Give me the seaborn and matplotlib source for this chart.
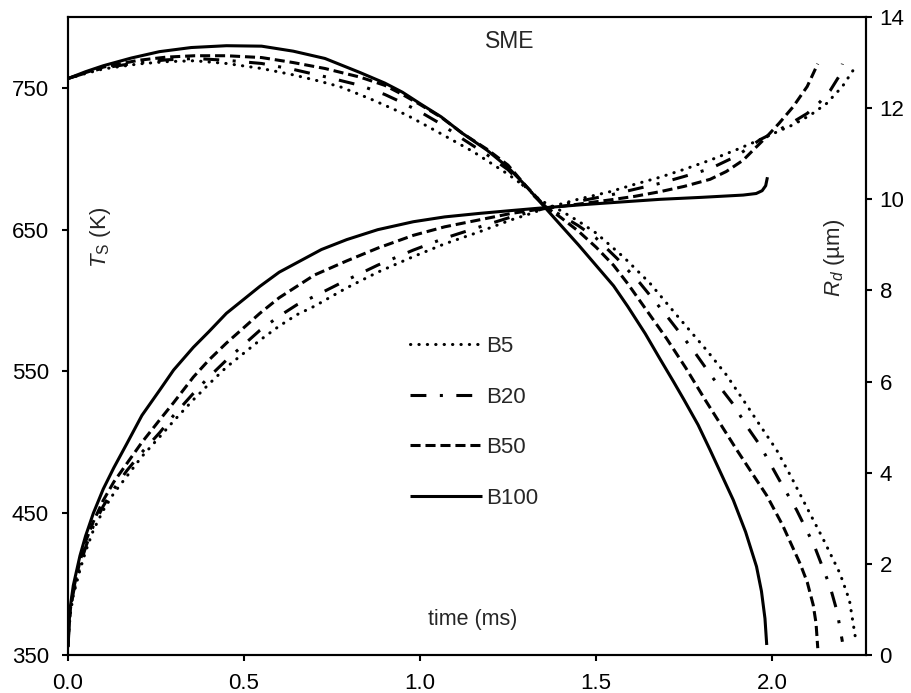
import matplotlib
matplotlib.use("Agg")
import matplotlib.pyplot as plt
import seaborn as sns
import pandas as pd

# ---------------- data ----------------
series = ["B5", "B20", "B50", "B100"]

# droplet radius R_d (um) vs time (ms)  -> right axis
t_rd_b100 = [0, 0.05, 0.10, 0.18, 0.26, 0.35, 0.45, 0.55, 0.64, 0.73, 0.83, 0.90, 0.95, 1.00, 1.06, 1.12, 1.19, 1.25,
             1.30, 1.34, 1.40, 1.45, 1.50, 1.55, 1.59, 1.64, 1.68, 1.72, 1.75, 1.79, 1.824, 1.86, 1.89, 1.925, 1.956,
             1.97, 1.98, 1.985]
rd_b100 = [12.65, 12.80, 12.93, 13.10, 13.24, 13.33, 13.37, 13.36, 13.25, 13.09, 12.78, 12.55, 12.35, 12.10, 11.81,
           11.45, 11.08, 10.70, 10.30, 9.95, 9.43, 9.00, 8.55, 8.10, 7.65, 7.05, 6.52, 6.00, 5.60, 5.05, 4.50, 3.90,
           3.40, 2.70, 1.94, 1.40, 0.80, 0.22]

t_rd_b50 = [0, 0.05, 0.10, 0.20, 0.28, 0.36, 0.45, 0.55, 0.64, 0.73, 0.83, 0.90, 0.95, 1.00, 1.06, 1.12, 1.19, 1.25,
            1.30, 1.355, 1.40, 1.45, 1.50, 1.55, 1.59, 1.645, 1.70, 1.755, 1.81, 1.855, 1.90, 1.945, 1.985, 2.03,
            2.08, 2.10, 2.117, 2.125, 2.13]
rd_b50 = [12.65, 12.78, 12.90, 13.05, 13.12, 13.15, 13.15, 13.11, 13.00, 12.87, 12.68, 12.50, 12.30, 12.08, 11.80,
          11.45, 11.10, 10.75, 10.30, 9.85, 9.60, 9.30, 8.95, 8.55, 8.15, 7.55, 6.95, 6.30, 5.60, 5.05, 4.50, 3.97,
          3.50, 2.85, 2.00, 1.60, 1.10, 0.70, 0.15]

t_rd_b20 = [0, 0.05, 0.10, 0.20, 0.28, 0.36, 0.45, 0.55, 0.64, 0.73, 0.83, 0.90, 0.95, 1.00, 1.06, 1.12, 1.19, 1.25,
            1.30, 1.355, 1.40, 1.45, 1.50, 1.56, 1.625, 1.70, 1.776, 1.83, 1.89, 1.93, 1.966, 2.02, 2.07, 2.12,
            2.165, 2.185, 2.20]
rd_b20 = [12.65, 12.77, 12.88, 13.00, 13.06, 13.09, 13.05, 12.98, 12.85, 12.69, 12.50, 12.30, 12.12, 11.92, 11.65,
          11.33, 10.98, 10.65, 10.25, 9.85, 9.65, 9.42, 9.15, 8.70, 8.16, 7.45, 6.69, 6.10, 5.50, 5.00, 4.60, 3.85,
          3.18, 2.40, 1.50, 0.95, 0.29]

t_rd_b5 = [0, 0.05, 0.10, 0.20, 0.28, 0.36, 0.45, 0.55, 0.64, 0.71, 0.773, 0.86, 0.962, 1.05, 1.152, 1.25, 1.30,
           1.341, 1.40, 1.45, 1.50, 1.58, 1.653, 1.73, 1.814, 1.87, 1.918, 1.965, 2.013, 2.055, 2.098, 2.145, 2.193,
           2.22, 2.238]
rd_b5 = [12.65, 12.76, 12.86, 12.97, 13.02, 13.04, 12.98, 12.87, 12.73, 12.60, 12.47, 12.20, 11.85, 11.48, 11.04,
         10.55, 10.27, 9.98, 9.75, 9.52, 9.26, 8.72, 8.16, 7.45, 6.69, 6.15, 5.60, 5.05, 4.50, 3.90, 3.25, 2.55,
         1.79, 1.20, 0.33]

# droplet surface temperature T_S (K) vs time (ms) -> left axis
t_ts_b100 = [0, 0.003, 0.006, 0.015, 0.034, 0.05, 0.072, 0.10, 0.13, 0.167, 0.21, 0.261, 0.30, 0.356, 0.40, 0.45,
             0.50, 0.545, 0.60, 0.66, 0.72, 0.792, 0.88, 0.981, 1.07, 1.17, 1.26, 1.34, 1.455, 1.57, 1.682, 1.80,
             1.918, 1.955, 1.972, 1.982, 1.987]
ts_b100 = [356, 372, 383, 399, 420, 434, 450, 467, 482, 499, 519, 537, 551, 567, 578, 591, 601, 610, 620, 628, 636,
           643, 650, 655.6, 659, 661.5, 663.5, 665.2, 667.5, 669.5, 671.4, 672.8, 674.4, 675.5, 677.5, 681, 687]

t_ts_b50 = [0, 0.003, 0.006, 0.015, 0.034, 0.05, 0.072, 0.10, 0.13, 0.167, 0.21, 0.261, 0.30, 0.356, 0.40, 0.45,
            0.50, 0.545, 0.60, 0.65, 0.70, 0.792, 0.88, 0.981, 1.07, 1.17, 1.26, 1.355, 1.45, 1.54, 1.61, 1.682,
            1.75, 1.824, 1.87, 1.918, 1.95, 1.985, 2.02, 2.06, 2.10, 2.13]
ts_b50 = [356, 370, 381, 396, 416, 430, 444, 459, 472, 485, 500, 516, 528, 546, 558, 570, 581, 591, 602, 610, 618,
          628, 637, 646, 652, 657, 661.5, 665, 668, 671, 673.5, 676.8, 680.5, 685.5, 691, 699, 707, 715.6, 725,
          736.7, 751, 767]

t_ts_b20 = [0, 0.003, 0.006, 0.015, 0.034, 0.05, 0.072, 0.10, 0.13, 0.167, 0.21, 0.261, 0.30, 0.356, 0.40, 0.45,
            0.50, 0.545, 0.60, 0.65, 0.70, 0.792, 0.88, 0.981, 1.07, 1.17, 1.26, 1.355, 1.45, 1.54, 1.61, 1.682,
            1.75, 1.824, 1.90, 1.966, 2.01, 2.06, 2.10, 2.136, 2.165, 2.19, 2.20]
ts_b20 = [356, 369, 380, 394, 413, 426, 441, 455, 467, 480, 493, 507, 519, 534.5, 546, 558, 569, 579, 589, 597, 603,
          614.5, 625, 635.6, 644, 652, 659, 665, 670, 674.4, 678.5, 682.7, 687.5, 693, 702, 713.5, 719, 726, 732,
          740, 748, 758, 767]

t_ts_b5 = [0, 0.003, 0.006, 0.015, 0.034, 0.05, 0.072, 0.10, 0.13, 0.167, 0.21, 0.261, 0.30, 0.356, 0.40, 0.45,
           0.50, 0.545, 0.60, 0.65, 0.70, 0.792, 0.88, 0.981, 1.07, 1.17, 1.26, 1.31, 1.355, 1.45, 1.54, 1.61,
           1.682, 1.75, 1.824, 1.90, 1.966, 2.01, 2.06, 2.11, 2.155, 2.20, 2.24]
ts_b5 = [356, 368, 378, 392, 410, 423, 438, 452, 464, 476, 490, 504, 515, 530, 541, 553, 563, 572, 582, 590, 596,
         609, 620, 631, 640, 648.6, 657, 661, 665, 671.5, 676.8, 682, 687, 692.5, 699, 706.5, 713.5, 718.5, 724,
         731, 739, 751, 766]

x_ticks = [0.0, 0.5, 1.0, 1.5, 2.0]
x_ticklabels = ["0.0", "0.5", "1.0", "1.5", "2.0"]
ts_ticks = [350, 450, 550, 650, 750]
rd_ticks = [0, 2, 4, 6, 8, 10, 12, 14]

rd_data = {"B5": (t_rd_b5, rd_b5), "B20": (t_rd_b20, rd_b20),
           "B50": (t_rd_b50, rd_b50), "B100": (t_rd_b100, rd_b100)}
ts_data = {"B5": (t_ts_b5, ts_b5), "B20": (t_ts_b20, ts_b20),
           "B50": (t_ts_b50, ts_b50), "B100": (t_ts_b100, ts_b100)}

# ---------------- styling ----------------
sns.set_theme(style="ticks")
plt.rcParams["font.family"] = ["Liberation Sans", "DejaVu Sans"]
plt.rcParams["mathtext.fontset"] = "custom"
plt.rcParams["mathtext.rm"] = "Liberation Sans"
plt.rcParams["mathtext.it"] = "Liberation Sans:italic"

line_styles = {
    "B5": dict(linestyle=(0, (0.1, 2.65)), dash_capstyle="round"),
    "B20": dict(linestyle=(0, (5.2, 4.4, 1.0, 4.4)), dash_capstyle="butt"),
    "B50": dict(linestyle=(0, (3.3, 1.6)), dash_capstyle="butt"),
    "B100": dict(linestyle="-", solid_capstyle="butt"),
}
LW = 2.2
FS = 16

fig = plt.figure(figsize=(9.12, 6.93), dpi=100)
ax = fig.add_axes([68 / 912, 38 / 693, 798 / 912, 638 / 693])
ax2 = ax.twinx()

for name in series:
    t, v = ts_data[name]
    df = pd.DataFrame({"t": t, "v": v})
    sns.lineplot(data=df, x="t", y="v", ax=ax, color="black", linewidth=LW,
                 sort=False, estimator=None, label=name, **line_styles[name])
    t, v = rd_data[name]
    df = pd.DataFrame({"t": t, "v": v})
    sns.lineplot(data=df, x="t", y="v", ax=ax2, color="black", linewidth=LW,
                 sort=False, estimator=None, legend=False, **line_styles[name])

ax.set_xlim(0, 2.267)
ax.set_ylim(350, 800)
ax2.set_ylim(0, 14)
ax.set_xticks(x_ticks)
ax.set_xticklabels(x_ticklabels)
ax.set_yticks(ts_ticks)
ax2.set_yticks(rd_ticks)
ax.set_xlabel("")
ax.set_ylabel("")
ax2.set_ylabel("")

for a in (ax, ax2):
    for sp in a.spines.values():
        sp.set_visible(True)
        sp.set_color("black")
        sp.set_linewidth(1.5)
    a.tick_params(axis="both", direction="out", length=4.3, width=1.5,
                  colors="black", labelsize=FS)
ax.tick_params(axis="x", pad=8.5)
ax.tick_params(axis="y", pad=9.5)
ax2.tick_params(axis="y", pad=5.5)

# in-axes labels
ax.text(0.041, 0.655, r"$T_{\mathrm{S}}$ (K)", transform=ax.transAxes,
        rotation=90, ha="center", va="center", fontsize=16)
ax.text(0.960, 0.622, r"$R_d$ (µm)", transform=ax.transAxes,
        rotation=90, ha="center", va="center", fontsize=16)
ax.text(0.507, 0.056, "time (ms)", transform=ax.transAxes,
        ha="center", va="center", fontsize=15.5)
ax.text(0.554, 0.961, "SME", transform=ax.transAxes,
        ha="center", va="center", fontsize=16.5)

handles, labels = ax.get_legend_handles_labels()
order = [labels.index(s) for s in series]
leg = ax.legend([handles[i] for i in order], [labels[i] for i in order],
                loc="upper left", bbox_to_anchor=(0.428, 0.500),
                frameon=False, fontsize=FS, handlelength=3.25,
                handletextpad=0.2, labelspacing=1.33, borderpad=0,
                borderaxespad=0)

fig.savefig("out.png", dpi=100)
